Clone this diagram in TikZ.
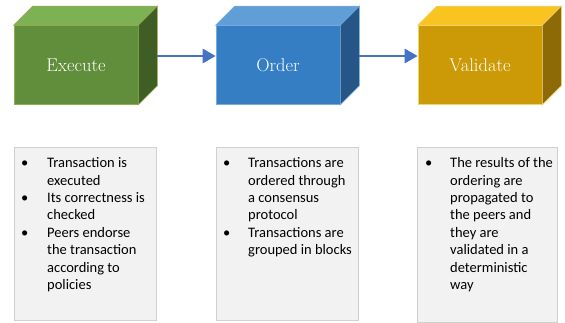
\documentclass[tikz,border=0pt]{standalone}
\usepackage{fontspec}
\newfontfamily\bodyfont{Carlito}
\usetikzlibrary{calc,arrows.meta}

\definecolor{gFront}{RGB}{96,142,59}
\definecolor{gTop}{RGB}{124,178,84}
\definecolor{gSide}{RGB}{62,94,38}
\definecolor{gEdge}{RGB}{150,170,80}
\definecolor{bFront}{RGB}{54,126,196}
\definecolor{bTop}{RGB}{95,158,215}
\definecolor{bSide}{RGB}{38,86,136}
\definecolor{bEdge}{RGB}{120,170,220}
\definecolor{yFront}{RGB}{203,154,6}
\definecolor{yTop}{RGB}{250,196,32}
\definecolor{ySide}{RGB}{142,106,6}
\definecolor{yEdge}{RGB}{240,210,110}
\definecolor{flowBlue}{RGB}{68,114,196}
\definecolor{panelFill}{RGB}{242,242,242}
\definecolor{panelEdge}{RGB}{208,208,208}

\tikzset{
  front/.style={minimum width=124pt, minimum height=79pt, inner sep=0pt,
    text=white, font=\fontsize{18.5}{20}\selectfont, line width=0.6pt},
  flow/.style={draw=flowBlue, line width=2.8pt,
    -{Triangle[length=13pt,width=14pt]}},
  panel/.style={draw=panelEdge, fill=panelFill, line width=0.6pt,
    minimum width=142pt, minimum height=173pt, inner sep=0pt, anchor=north west},
  bullets/.style={anchor=north west, inner sep=0pt, text=black,
    font=\bodyfont\fontsize{14.5}{17.4}\selectfont}
}

% a box with depth: front face node plus top and side faces
\newcommand\cube[7]{%
  % #1 name, #2 centre, #3 text, #4 front, #5 top, #6 side, #7 edge
  \node[front, fill=#4, draw=#7] (#1) at #2 {#3};
  \filldraw[fill=#5, draw=#7, line width=0.6pt]
    (#1.north west) -- ++(19,-19) -- ($(#1.north east)+(19,-19)$)
    -- (#1.north east) -- cycle;
  \filldraw[fill=#6, draw=#7, line width=0.6pt]
    (#1.north east) -- ++(19,-19) -- ($(#1.south east)+(19,-19)$)
    -- (#1.south east) -- cycle;
  \coordinate (#1back) at ($(#1.east)+(19,-9)$);
}

\begin{document}
\begin{tikzpicture}[x=1pt, y=-1pt]
  \useasboundingbox (0,0) rectangle (565,322);

  \cube{exec}{(76,65)}{Execute}{gFront}{gTop}{gSide}{gEdge}
  \cube{order}{(278,65)}{Order}{bFront}{bTop}{bSide}{bEdge}
  \cube{valid}{(480,65)}{Validate}{yFront}{yTop}{ySide}{yEdge}

  \draw[flow] (execback) -- (execback -| order.west);
  \draw[flow] (orderback) -- (orderback -| valid.west);

  \node[panel] (p1) at (14,147) {};
  \node[panel] (p2) at (216,147) {};
  \node[panel, minimum width=140pt, minimum height=175pt] (p3) at (417,147) {};

  \node[bullets] (l1) at (21,155.3) {%
    \begin{tabular}{@{}p{26pt}@{}l@{}}
      \textbullet & Transaction is\\
                  & executed\\
      \textbullet & Its correctness is\\
                  & checked\\
      \textbullet & Peers endorse\\
                  & the transaction\\
                  & according to\\
                  & policies
    \end{tabular}};
  \node[bullets] (l2) at (223,155.3) {%
    \begin{tabular}{@{}p{25pt}@{}l@{}}
      \textbullet & Transactions are\\
                  & ordered through\\
                  & a consensus\\
                  & protocol\\
      \textbullet & Transactions are\\
                  & grouped in blocks
    \end{tabular}};
  \node[bullets] (l3) at (425,155.3) {%
    \begin{tabular}{@{}p{25pt}@{}l@{}}
      \textbullet & The results of the\\
                  & ordering are\\
                  & propagated to\\
                  & the peers and\\
                  & they are\\
                  & validated in a\\
                  & deterministic\\
                  & way
    \end{tabular}};
\end{tikzpicture}
\end{document}
